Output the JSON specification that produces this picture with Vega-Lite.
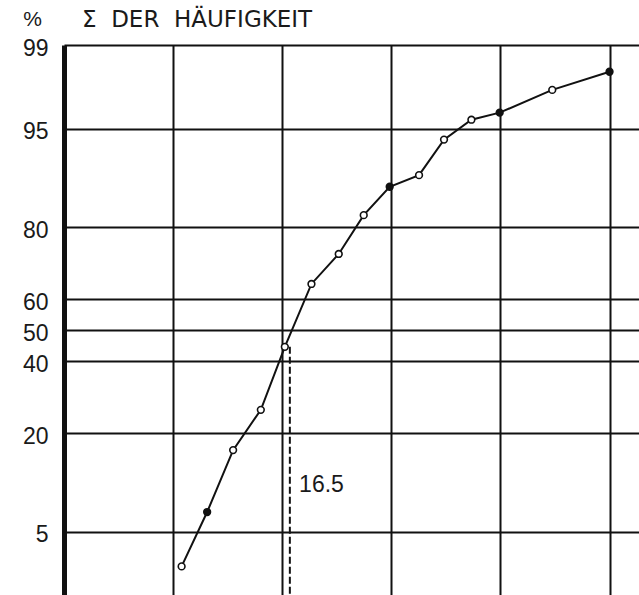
{
  "$schema": "https://vega.github.io/schema/vega-lite/v6.json",
  "width": 575,
  "height": 550,
  "autosize": {"type": "none"},
  "padding": {"left": 64, "top": 45, "right": 0, "bottom": 0},
  "background": "white",
  "config": {"view": {"stroke": null}, "font": "Liberation Sans"},
  "title": {
    "text": "Σ\u00a0\u00a0DER\u00a0\u00a0HÄUFIGKEIT",
    "anchor": "start",
    "frame": "group",
    "dx": 18,
    "offset": -42,
    "baseline": "alphabetic",
    "font": "DejaVu Sans",
    "fontSize": 23,
    "fontWeight": "normal",
    "color": "#1a1a1a"
  },
  "datasets": {
    "pts": [
      {"g": 1.078, "p": 2.7, "kind": "open"},
      {"g": 1.312, "p": 6.9, "kind": "filled"},
      {"g": 1.55, "p": 16.4, "kind": "open"},
      {"g": 1.804, "p": 25.8, "kind": "open"},
      {"g": 2.024, "p": 44.6, "kind": "open"},
      {"g": 2.268, "p": 64.7, "kind": "open"},
      {"g": 2.518, "p": 73.3, "kind": "open"},
      {"g": 2.747, "p": 82.6, "kind": "open"},
      {"g": 2.985, "p": 87.9, "kind": "filled"},
      {"g": 3.254, "p": 89.7, "kind": "open"},
      {"g": 3.483, "p": 94.0, "kind": "open"},
      {"g": 3.734, "p": 95.7, "kind": "open"},
      {"g": 3.993, "p": 96.2, "kind": "filled"},
      {"g": 4.475, "p": 97.5, "kind": "open"},
      {"g": 5.0, "p": 98.25, "kind": "filled"}
    ],
    "median": [{"g": 2.07, "ptop": 44.6, "pbot": 1.54, "label": "16.5", "gl": 2.36, "pl": 10.3}]
  },
  "layer": [
    {
      "data": {"name": "pts"},
      "transform": [{"calculate": "quantileNormal(datum.p / 100)", "as": "z"}],
      "mark": {"type": "line", "color": "#111", "strokeWidth": 2},
      "encoding": {
        "x": {
          "field": "g", "type": "quantitative",
          "scale": {"domain": [0, 5.27], "nice": false, "zero": false},
          "axis": {"values": [1, 2, 3, 4, 5], "grid": true, "labels": false, "ticks": false, "domain": false, "title": null, "gridColor": "#111", "gridWidth": 2, "gridOpacity": 1}
        },
        "y": {
          "field": "z", "type": "quantitative",
          "scale": {"domain": [-2.16, 2.3263479], "nice": false, "zero": false},
          "axis": {
            "values": [2.3263479, 1.6448536, 0.8416212, 0.2533471, 0, -0.2533471, -0.8416212, -1.6448536],
            "labelExpr": "format(round(cumulativeNormal(datum.value) * 100), 'd')",
            "grid": true, "gridColor": "#111", "gridWidth": 1.8, "gridOpacity": 1,
            "ticks": false,
            "domain": true, "domainColor": "#111", "domainWidth": 5,
            "labelFontSize": 23, "labelFont": "Liberation Sans", "labelColor": "#1a1a1a",
            "labelPadding": 16, "labelBaseline": "middle", "labelOffset": 3,
            "title": "%", "titleAngle": 0, "titleX": -32, "titleY": -26,
            "titleAlign": "center", "titleBaseline": "middle",
            "titleFontSize": 21, "titleFontWeight": "normal", "titleFont": "Liberation Sans", "titleColor": "#1a1a1a"
          }
        }
      }
    },
    {
      "data": {"name": "pts"},
      "transform": [{"calculate": "quantileNormal(datum.p / 100)", "as": "z"}],
      "mark": {"type": "point", "shape": "circle", "filled": true, "size": 45, "stroke": "#111", "strokeWidth": 1.6, "opacity": 1},
      "encoding": {
        "x": {"field": "g", "type": "quantitative"},
        "y": {"field": "z", "type": "quantitative"},
        "fill": {"field": "kind", "type": "nominal", "scale": {"domain": ["open", "filled"], "range": ["white", "#111"]}, "legend": null}
      }
    },
    {
      "data": {"name": "median"},
      "transform": [
        {"calculate": "quantileNormal(datum.ptop / 100)", "as": "ztop"},
        {"calculate": "quantileNormal(datum.pbot / 100)", "as": "zbot"}
      ],
      "mark": {"type": "rule", "color": "#111", "strokeWidth": 2, "strokeDash": [7, 3]},
      "encoding": {
        "x": {"field": "g", "type": "quantitative"},
        "y": {"field": "ztop", "type": "quantitative"},
        "y2": {"field": "zbot"}
      }
    },
    {
      "data": {"name": "median"},
      "transform": [{"calculate": "quantileNormal(datum.pl / 100)", "as": "zl"}],
      "mark": {"type": "text", "font": "Liberation Sans", "fontSize": 23, "color": "#1a1a1a", "align": "center", "baseline": "middle"},
      "encoding": {
        "x": {"field": "gl", "type": "quantitative"},
        "y": {"field": "zl", "type": "quantitative"},
        "text": {"field": "label"}
      }
    }
  ]
}
